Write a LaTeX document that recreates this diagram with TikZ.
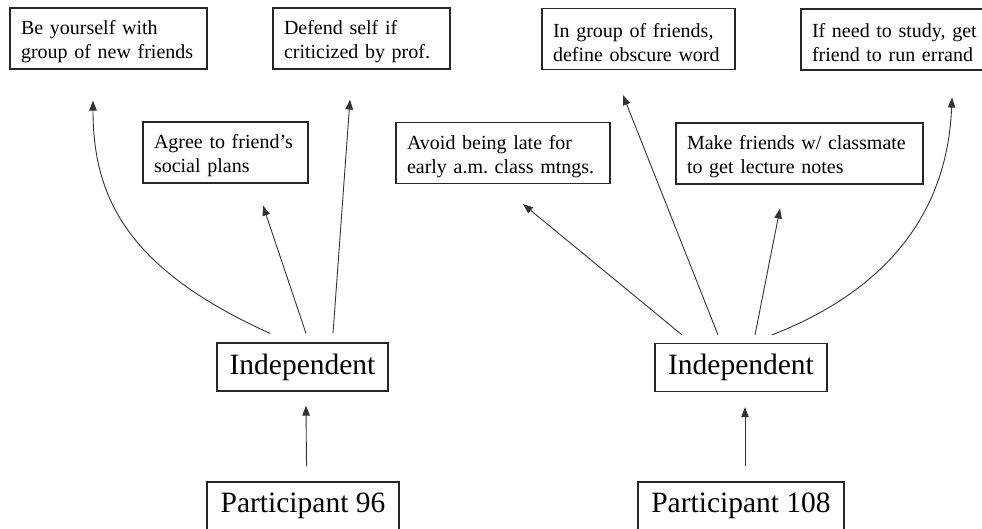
\documentclass[tikz,border=0pt]{standalone}
\usepackage{fontspec}
\setmainfont{Liberation Serif}
\usetikzlibrary{arrows.meta}

\begin{document}
\begin{tikzpicture}[
        x=1pt, y=-1pt,
        goal/.style = {shape=rectangle, draw=black!85, line width=1.1pt, align=left, inner xsep=11pt, minimum height=61pt, text height=21pt, font=\fontsize{20}{24}\selectfont},
        trait/.style = {shape=rectangle, draw=black!85, line width=1.2pt, minimum height=48pt, font=\fontsize{29.5}{32}\selectfont},
        link/.style = {draw=black!80, line width=0.9pt, -{Triangle[length=10pt, width=7.5pt]}}
    ]
        \useasboundingbox (0,0) rectangle (982,528);

        % participant 96
        \node[trait, minimum width=192pt] (p96) at (303,506) {Participant 96};
        \node[trait, minimum width=171pt] (ind96) at (302.5,367) {Independent};
        \node[goal, text width=175pt] (yourself) at (108.5,38.5) {Be yourself with\\group of new friends};
        \node[goal, text width=155pt] (defend) at (361.5,38.5) {Defend self if\\criticized by prof.};
        \node[goal, text width=143pt] (agree) at (225.5,152.5) {Agree to friend's\\social plans};

        % participant 108
        \node[trait, minimum width=206pt] (p108) at (741,506) {Participant 108};
        \node[trait, minimum width=172pt] (ind108) at (741,367.5) {Independent};
        \node[goal, text width=192pt] (avoid) at (503,153) {Avoid being late for\\early a.m.\ class mtngs.};
        \node[goal, text width=171pt] (obscure) at (638.5,39) {In group of friends,\\define obscure word};
        \node[goal, text width=168pt] (errand) at (896,39.5) {If need to study, get\\friend to run errand};
        \node[goal, text width=225pt] (notes) at (799.5,153.5) {Make friends w/ classmate\\to get lecture notes};

        \draw[link] ([xshift=3.5pt,yshift=15pt]p96.north) -- ([xshift=3.5pt,yshift=-14pt]ind96.south);
        \draw[link] ([xshift=-32.5pt,yshift=9pt]ind96.north) .. controls (130,270) and (93,200) .. ([xshift=-15.5pt,yshift=-31pt]yourself.south);
        \draw[link] ([xshift=3.5pt,yshift=9pt]ind96.north) -- ([xshift=37.5pt,yshift=-22pt]agree.south);
        \draw[link] ([xshift=30.5pt,yshift=9pt]ind96.north) -- ([xshift=-11.5pt,yshift=-30pt]defend.south);

        \draw[link] ([xshift=4pt,yshift=15pt]p108.north) -- ([xshift=4pt,yshift=-15pt]ind108.south);
        \draw[link] ([xshift=-59pt,yshift=8pt]ind108.north) -- ([xshift=20pt,yshift=-20pt]avoid.south);
        \draw[link] ([xshift=-23pt,yshift=8pt]ind108.north) -- ([xshift=-15.5pt,yshift=-25pt]obscure.south);
        \draw[link] ([xshift=14pt,yshift=8pt]ind108.north) -- ([xshift=-19.5pt,yshift=-24pt]notes.south);
        \draw[link] ([xshift=31pt,yshift=8pt]ind108.north) .. controls (900,285) and (948,200) .. ([xshift=56pt,yshift=-27pt]errand.south);
    \end{tikzpicture}
\end{document}
